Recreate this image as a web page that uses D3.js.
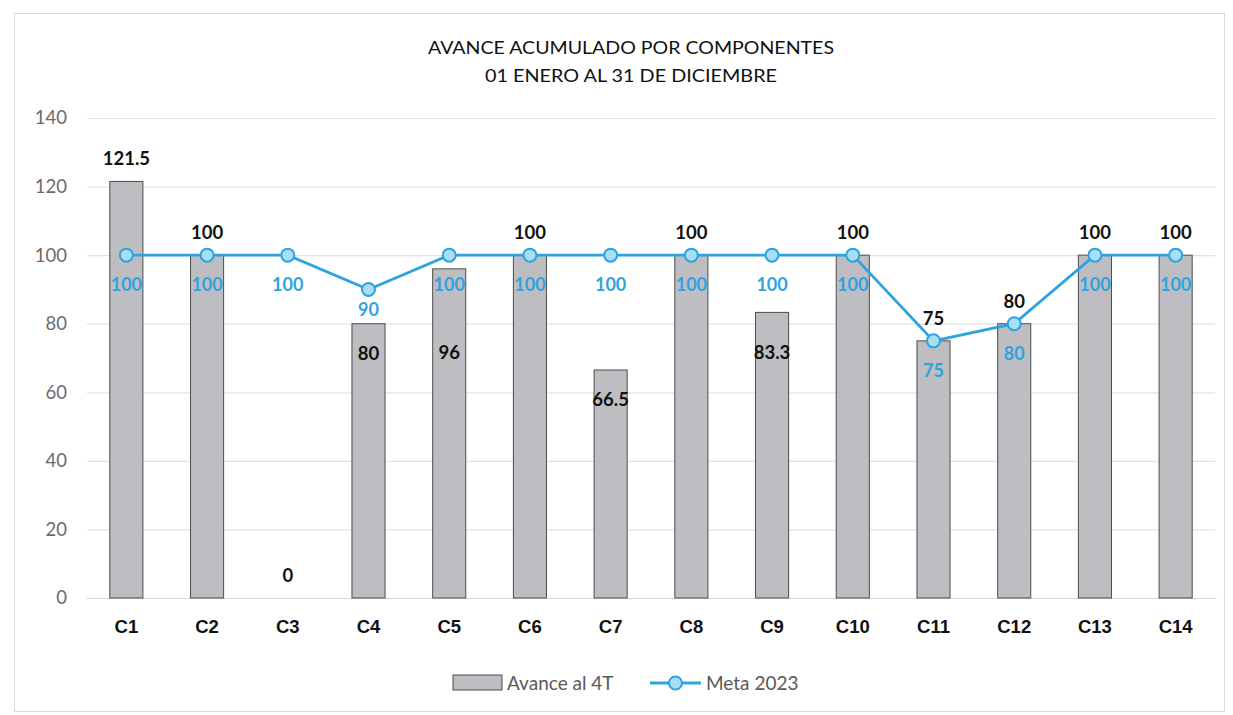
<!DOCTYPE html>
<html>
<head>
<meta charset="utf-8">
<script src="https://cdn.jsdelivr.net/npm/d3@7"></script>
<style>
  body { margin: 0; background: #fff; }
  svg { font-family: Lato, "Open Sans", sans-serif; }
</style>
</head>
<body>
<div id="chart-area"></div>
<script>
// data
let categories = ["C1","C2","C3","C4","C5","C6","C7","C8","C9","C10","C11","C12","C13","C14"];
let avanceValues = [121.5, 100, 0, 80, 96, 100, 66.5, 100, 83.3, 100, 75, 80, 100, 100];
let metaValues = [100, 100, 100, 90, 100, 100, 100, 100, 100, 100, 75, 80, 100, 100];
let yTicks = [0, 20, 40, 60, 80, 100, 120, 140];
let titleLines = ["AVANCE ACUMULADO POR COMPONENTES", "01 ENERO AL 31 DE DICIEMBRE"];
let seriesNames = ["Avance al 4T", "Meta 2023"];

const W = 1233, H = 715;
const margin = {top: 118, right: 17, bottom: 117, left: 86};
const blue = "#2ea3e0";

const svg = d3.select("#chart-area").append("svg").attr("width", W).attr("height", H);

// outer frame
svg.append("rect").attr("x", 14.5).attr("y", 13.5).attr("width", 1210).attr("height", 698)
  .attr("fill", "none").attr("stroke", "#d9d9d9");

let x = d3.scaleBand().domain(categories).range([margin.left, W - margin.right]).paddingInner(0.59).paddingOuter(0.295);
let y = d3.scaleLinear().domain([0, 140]).range([H - margin.bottom, margin.top]);
let goal = d3.max(metaValues);

// title
svg.append("g").selectAll("text").data(titleLines).join("text")
  .attr("x", 631).attr("y", (d,i)=> 54 + i*28)
  .attr("text-anchor", "middle").attr("font-size", 18).attr("fill", "#111")
  .attr("textLength", (d,i)=> i==0 ? 406 : 292).attr("lengthAdjust", "spacingAndGlyphs")
  .text(d=>d);

// grid + y axis
let yAxis = d3.axisLeft(y).tickValues(yTicks).tickSize(-(W - margin.right - margin.left - 2)).tickPadding(20);
let gy = svg.append("g").attr("transform", `translate(${margin.left+1},0)`).call(yAxis);
gy.select(".domain").remove();
gy.selectAll(".tick line").attr("stroke", "#e3e3e3").attr("stroke-width", 1.2);
gy.selectAll(".tick text").attr("font-size", 18.5).attr("fill", "#6b6b6b").attr("font-family", "Lato, sans-serif");

// x axis labels
let xAxis = d3.axisBottom(x).tickSize(0).tickPadding(22);
let gx = svg.append("g").attr("transform", `translate(0,${y(0)})`).call(xAxis);
gx.select(".domain").attr("stroke", "#d9d9d9");
gx.selectAll(".tick text").attr("font-size", 18.5).attr("font-weight", "bold").attr("fill", "#111");

// bars
let rows = categories.map((c,i)=>({cat: c, v: avanceValues[i], m: metaValues[i]}));
svg.append("g").selectAll("rect").data(rows.filter(d=>d.v > 0)).join("rect")
  .attr("x", d=>x(d.cat)).attr("y", d=>y(d.v))
  .attr("width", x.bandwidth()).attr("height", d=>y(0) - y(d.v))
  .attr("fill", "#bdbdc2").attr("stroke", "#4d4d4d").attr("stroke-width", 1);

// meta line
let line = d3.line().x(d=>x(d.cat) + x.bandwidth()/2).y(d=>y(d.m));
svg.append("path").datum(rows).attr("d", line)
  .attr("fill", "none").attr("stroke", blue).attr("stroke-width", 2.8);
svg.append("g").selectAll("circle").data(rows).join("circle")
  .attr("cx", d=>x(d.cat) + x.bandwidth()/2).attr("cy", d=>y(d.m)).attr("r", 6.5)
  .attr("fill", "#a9def7").attr("stroke", blue).attr("stroke-width", 2);

// meta labels under the points
svg.append("g").selectAll("text").data(rows).join("text")
  .attr("x", d=>x(d.cat) + x.bandwidth()/2).attr("y", d=> d.m < goal && d.m > 85 ? y(d.m) + 27 : y(d.m) + 36)
  .attr("text-anchor", "middle").attr("font-size", 18).attr("font-weight", "bold").attr("fill", blue)
  .text(d=>d3.format("~g")(d.m));

// bar labels: above the bar when it reaches its goal, inside (under the goal labels) otherwise
let barLabelY = function(d){
  if (d.v >= d.m || d.v == 0) return y(d.v) - 16;
  return Math.max(y(d.v) + 36, y(goal) + 104);
};
svg.append("g").selectAll("text").data(rows).join("text")
  .attr("x", d=>x(d.cat) + x.bandwidth()/2).attr("y", barLabelY)
  .attr("text-anchor", "middle").attr("font-size", 18.5).attr("font-weight", "bold").attr("fill", "#111")
  .text(d=>d3.format("~g")(d.v));

// legend
let lg = svg.append("g").attr("transform", "translate(453,683)");
lg.append("rect").attr("x", 0).attr("y", -8).attr("width", 49).attr("height", 15)
  .attr("fill", "#bdbdc2").attr("stroke", "#4d4d4d");
lg.append("text").attr("x", 54).attr("y", 7).attr("font-size", 19).attr("fill", "#595959").text(seriesNames[0]);
lg.append("line").attr("x1", 197).attr("x2", 248).attr("y1", 0).attr("y2", 0).attr("stroke", blue).attr("stroke-width", 2.8);
lg.append("circle").attr("cx", 222.5).attr("cy", 0).attr("r", 6.5).attr("fill", "#a9def7").attr("stroke", blue).attr("stroke-width", 2);
lg.append("text").attr("x", 253).attr("y", 7).attr("font-size", 19).attr("fill", "#595959").text(seriesNames[1]);
</script>
</body>
</html>
